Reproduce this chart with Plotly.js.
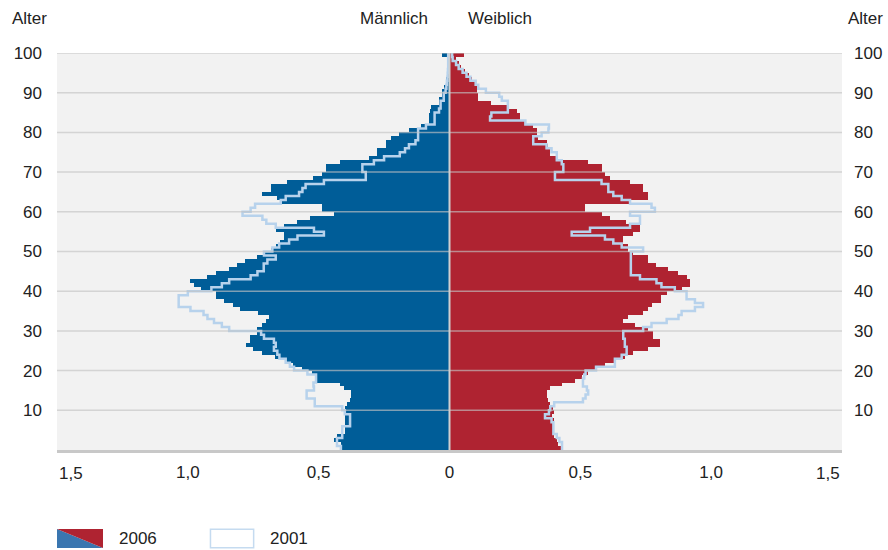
<!DOCTYPE html>
<html>
<head>
<meta charset="utf-8">
<script src="https://cdn.plot.ly/plotly-3.0.1.min.js"></script>
<style>html,body{margin:0;padding:0;background:#fff;}#chart{width:888px;height:550px;}</style>
</head>
<body>
<div id="chart"></div>
<script>
// Age bands (each band spans age .. age+1)
const ages = [0,1,2,3,4,5,6,7,8,9,10,11,12,13,14,15,16,17,18,19,20,21,22,23,24,25,26,27,28,29,30,31,32,33,34,35,36,37,38,39,40,41,42,43,44,45,46,47,48,49,50,51,52,53,54,55,56,57,58,59,60,61,62,63,64,65,66,67,68,69,70,71,72,73,74,75,76,77,78,79,80,81,82,83,84,85,86,87,88,89,90,91,92,93,94,95,96,97,98,99];

// Share of population (%) – 2006
const male2006 = [0.415,0.415,0.44,0.43,0.40,0.40,0.40,0.40,0.40,0.40,0.40,0.39,0.38,0.375,0.375,0.405,0.42,0.505,0.51,0.524,0.562,0.60,0.626,0.665,0.715,0.75,0.779,0.762,0.762,0.734,0.734,0.715,0.70,0.69,0.73,0.80,0.829,0.861,0.893,0.893,0.95,0.976,0.991,0.927,0.893,0.842,0.813,0.78,0.734,0.709,0.683,0.664,0.648,0.632,0.632,0.664,0.632,0.584,0.534,0.443,0.486,0.489,0.649,0.66,0.715,0.683,0.683,0.62,0.52,0.489,0.471,0.471,0.42,0.308,0.276,0.276,0.244,0.244,0.225,0.193,0.155,0.11,0.08,0.079,0.079,0.075,0.07,0.04,0.04,0.028,0.028,0.02,0.015,0.012,0.01,0.008,0.006,0.005,0.004,0.03];
const female2006 = [0.43,0.415,0.41,0.40,0.40,0.40,0.40,0.40,0.39,0.40,0.397,0.384,0.375,0.371,0.371,0.384,0.43,0.48,0.505,0.53,0.556,0.594,0.632,0.67,0.70,0.76,0.804,0.804,0.779,0.779,0.76,0.709,0.664,0.683,0.74,0.76,0.775,0.81,0.81,0.83,0.89,0.919,0.919,0.906,0.874,0.836,0.791,0.76,0.76,0.702,0.683,0.683,0.664,0.664,0.70,0.728,0.728,0.673,0.613,0.581,0.518,0.518,0.693,0.76,0.76,0.74,0.74,0.69,0.613,0.594,0.581,0.581,0.53,0.416,0.384,0.384,0.378,0.371,0.34,0.333,0.333,0.32,0.289,0.27,0.27,0.257,0.223,0.16,0.11,0.11,0.104,0.104,0.10,0.085,0.075,0.06,0.045,0.035,0.024,0.057];

// Share of population (%) – 2001 (outline)
const male2001 = [0.415,0.43,0.43,0.41,0.41,0.41,0.38,0.38,0.38,0.40,0.41,0.515,0.515,0.546,0.546,0.518,0.52,0.51,0.51,0.543,0.594,0.61,0.626,0.65,0.658,0.671,0.664,0.671,0.709,0.72,0.842,0.87,0.90,0.925,0.94,0.99,1.035,1.035,1.035,1.00,0.91,0.87,0.842,0.76,0.734,0.71,0.71,0.696,0.664,0.709,0.677,0.651,0.613,0.581,0.48,0.518,0.664,0.70,0.715,0.791,0.76,0.743,0.645,0.626,0.575,0.562,0.55,0.48,0.32,0.32,0.333,0.333,0.289,0.25,0.19,0.17,0.155,0.13,0.12,0.12,0.12,0.09,0.057,0.057,0.057,0.04,0.034,0.034,0.022,0.022,0.015,0.012,0.01,0.008,0.007,0.006,0.005,0.005,0.005,0.005];
const female2001 = [0.43,0.43,0.42,0.41,0.397,0.397,0.397,0.39,0.365,0.38,0.385,0.40,0.51,0.52,0.53,0.525,0.51,0.51,0.515,0.52,0.56,0.632,0.632,0.658,0.677,0.677,0.67,0.67,0.664,0.664,0.74,0.772,0.83,0.875,0.887,0.938,0.969,0.938,0.906,0.906,0.861,0.81,0.791,0.728,0.693,0.693,0.693,0.693,0.693,0.693,0.74,0.658,0.626,0.594,0.467,0.537,0.69,0.728,0.728,0.69,0.785,0.772,0.69,0.658,0.626,0.607,0.607,0.581,0.403,0.403,0.435,0.435,0.429,0.41,0.41,0.39,0.371,0.32,0.32,0.352,0.378,0.38,0.29,0.155,0.16,0.223,0.223,0.223,0.2,0.19,0.139,0.11,0.10,0.08,0.065,0.05,0.035,0.025,0.012,0.01];

const xTickVals = [-1.5,-1,-0.5,0,0.5,1,1.5];
const xTickText = ['1,5','1,0','0,5','0','0,5','1,0','1,5'];
const yTickVals = [10,20,30,40,50,60,70,80,90,100];
const yTickText = ['10','20','30','40','50','60','70','80','90','100'];

const BLUE = '#005d98', RED = '#af2331', LINE01 = '#b7d2ec';
const FONT = 'Liberation Sans Narrow, Arial Narrow, Liberation Sans, Arial, sans-serif';
const FS = 17;

const yMid = ages.map(a => a + 0.5);
function stepPoints(vals, sign){
  const xs = [], ys = [];
  ages.forEach((a,i) => { xs.push(sign*vals[i]); ys.push(a); });
  xs.push(sign*vals[vals.length-1]); ys.push(ages[ages.length-1]+1);
  return {xs, ys};
}
const m01 = stepPoints(male2001, -1), f01 = stepPoints(female2001, 1);

const traces = [
  {type:'bar', orientation:'h', y:yMid, x:male2006.map(v=>-v), width:1, marker:{color:BLUE, line:{width:0}}, hoverinfo:'skip'},
  {type:'bar', orientation:'h', y:yMid, x:female2006, width:1, marker:{color:RED, line:{width:0}}, hoverinfo:'skip'},
  {type:'scatter', mode:'lines', x:m01.xs, y:m01.ys, yaxis:'y2', line:{color:LINE01, width:2.5, shape:'vh'}, hoverinfo:'skip'},
  {type:'scatter', mode:'lines', x:f01.xs, y:f01.ys, yaxis:'y2', line:{color:LINE01, width:2.5, shape:'vh'}, hoverinfo:'skip'}
];

const shapes = yTickVals.map(v => ({type:'line', xref:'paper', x0:0, x1:1, yref:'y', y0:v, y1:v, layer:'above', line:{color:'rgba(195,195,195,0.65)', width:1.5}}));
shapes.push({type:'line', xref:'x', x0:0, x1:0, yref:'paper', y0:0, y1:1, layer:'above', line:{color:'#cfcfcf', width:2}});
// legend swatches
shapes.push({type:'path', xref:'paper', yref:'paper', path:'M 0,-0.199 L 0.0586,-0.247 L 0,-0.247 Z', fillcolor:'#3a76b0', line:{width:0}});
shapes.push({type:'path', xref:'paper', yref:'paper', path:'M 0,-0.199 L 0.0586,-0.199 L 0.0586,-0.247 Z', fillcolor:RED, line:{width:0}});
shapes.push({type:'rect', xref:'paper', yref:'paper', x0:0.1955, x1:0.2505, y0:-0.2465, y1:-0.1995, fillcolor:'#ffffff', line:{color:'#c5dbf0', width:1.5}});

const annFont = {family:FONT, size:FS, color:'#222'};
const annotations = [
  {text:'Alter', xref:'paper', yref:'paper', x:-0.0599, y:1.088, xanchor:'left', yanchor:'middle', showarrow:false, font:annFont},
  {text:'Alter', xref:'paper', yref:'paper', x:1.0548, y:1.088, xanchor:'right', yanchor:'middle', showarrow:false, font:annFont},
  {text:'Männlich', xref:'paper', yref:'paper', x:0.4752, y:1.088, xanchor:'right', yanchor:'middle', showarrow:false, font:annFont},
  {text:'Weiblich', xref:'paper', yref:'paper', x:0.5210, y:1.088, xanchor:'left', yanchor:'middle', showarrow:false, font:annFont},
  // outer x tick labels sit inside the plot edges
  {text:xTickText[0], xref:'x', yref:'paper', x:xTickVals[0], y:-0.058, xanchor:'left', yanchor:'middle', showarrow:false, font:annFont},
  {text:xTickText[6], xref:'x', yref:'paper', x:xTickVals[6], y:-0.058, xanchor:'right', yanchor:'middle', showarrow:false, font:annFont},
  {text:'2006', xref:'paper', yref:'paper', x:0.0764, y:-0.2217, xanchor:'left', yanchor:'middle', showarrow:false, font:annFont},
  {text:'2001', xref:'paper', yref:'paper', x:0.2688, y:-0.2217, xanchor:'left', yanchor:'middle', showarrow:false, font:annFont}
];

const layout = {
  width:888, height:550,
  margin:{l:57, r:46, t:53, b:100, pad:0},
  paper_bgcolor:'#ffffff', plot_bgcolor:'#f2f2f2',
  barmode:'overlay', bargap:0, showlegend:false,
  font:{family:FONT, size:FS, color:'#222'},
  xaxis:{range:[-1.5,1.5], tickvals:xTickVals.slice(1,6), ticktext:xTickText.slice(1,6), showgrid:false, zeroline:false, showline:true, linecolor:'#c8c8c8', linewidth:3, ticks:'', ticklabelstandoff:5, fixedrange:true},
  yaxis:{range:[0,100], tickvals:yTickVals, ticktext:yTickText, showgrid:false, zeroline:false, ticks:'', ticklabelstandoff:14, fixedrange:true},
  yaxis2:{range:[0,100], overlaying:'y', side:'right', tickvals:yTickVals, ticktext:yTickText, showgrid:false, zeroline:false, ticks:'', ticklabelstandoff:11, fixedrange:true},
  shapes, annotations
};

Plotly.newPlot('chart', traces, layout, {displayModeBar:false, staticPlot:true});
</script>
</body>
</html>
